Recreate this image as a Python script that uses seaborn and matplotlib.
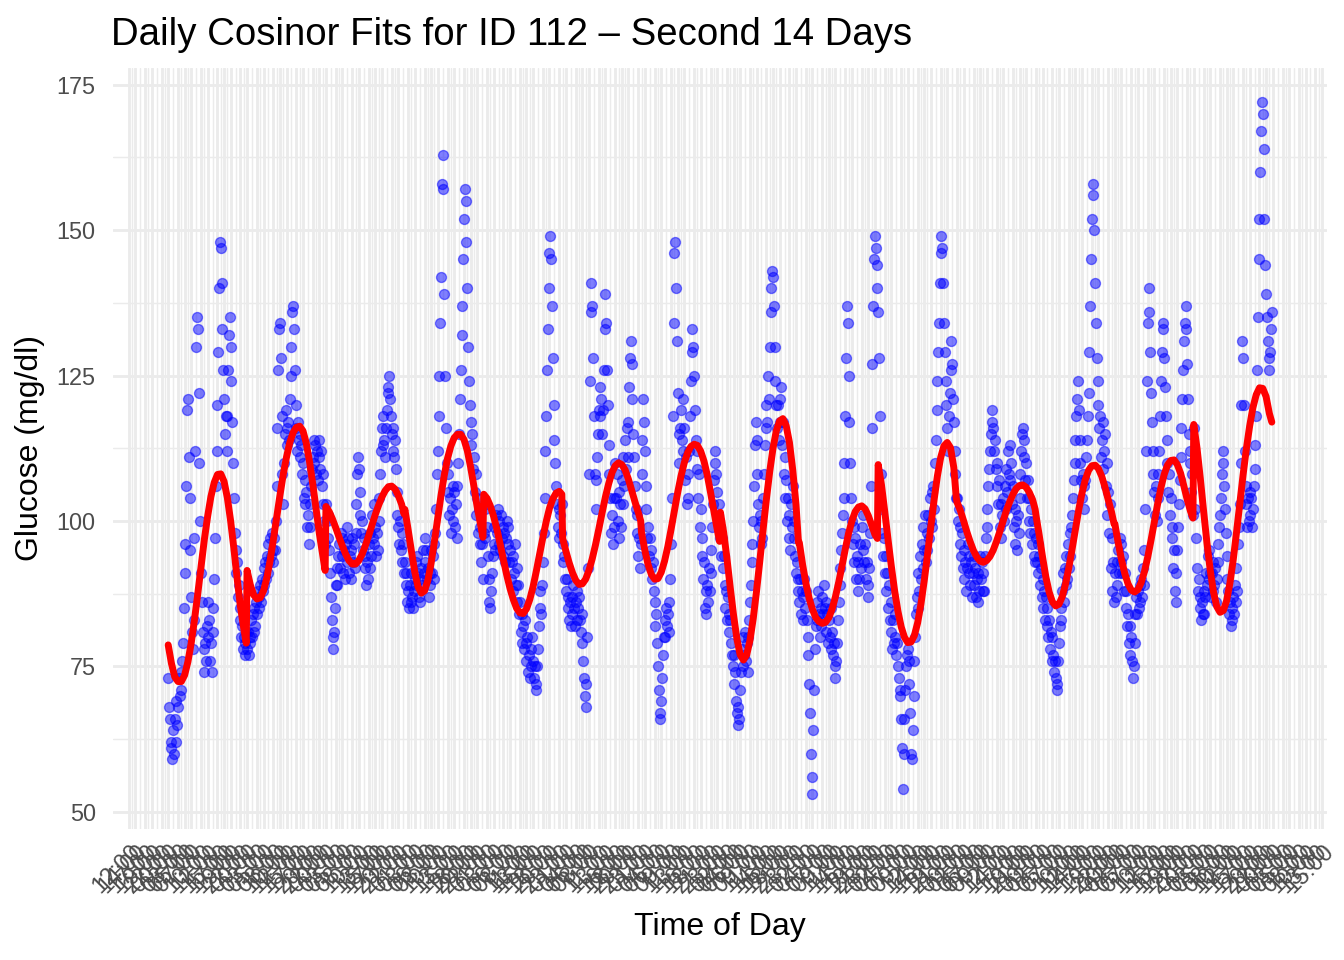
import matplotlib
matplotlib.use("Agg")
import matplotlib.pyplot as plt
import matplotlib.dates as mdates
import numpy as np
import pandas as pd
import seaborn as sns

# CGM readings, one list per day, every 15 min from 00:00
START = pd.Timestamp("2024-03-15 00:00")
READ_MIN = 15

glucose_d01 = [73, 68, 66, 62, 61, 59, 64, 60, 66, 62, 69, 65, 68, 73, 70, 74,
               71, 76, 79, 85, 91, 96, 106, 119, 121, 111, 104, 95, 87, 81, 78, 83,
               97, 112, 130, 135, 133, 122, 110, 100, 91, 86, 81, 78, 74, 79, 76, 82,
               86, 80, 83, 76, 79, 74, 81, 85, 90, 97, 106, 112, 120, 129, 140, 148,
               147, 141, 133, 126, 121, 115, 118, 112, 118, 126, 132, 135, 130, 124, 117, 110,
               104, 98, 95, 91, 93, 87, 89, 83, 85, 80, 82, 78, 80, 77, 79, 81]
glucose_d02 = [78, 81, 77, 80, 79, 83, 80, 84, 81, 85, 82, 86, 84, 88, 85, 87,
               89, 86, 90, 88, 92, 89, 93, 90, 94, 91, 96, 93, 97, 94, 98, 95,
               93, 97, 95, 100, 106, 116, 126, 133, 134, 128, 118, 108, 103, 110, 115, 119,
               116, 113, 117, 114, 121, 125, 130, 136, 137, 133, 126, 120, 116, 112, 117, 114,
               115, 111, 113, 108, 110, 104, 107, 103, 105, 99, 101, 96, 99, 103, 106, 109,
               111, 114, 110, 113, 108, 112, 107, 111, 114, 109, 112, 106, 108, 103, 100, 96]
glucose_d03 = [103, 100, 101, 97, 95, 91, 87, 83, 80, 78, 81, 85, 89, 92, 89, 94,
               96, 92, 98, 94, 97, 91, 95, 90, 96, 99, 93, 97, 91, 94, 90, 95,
               97, 93, 96, 92, 98, 103, 108, 111, 109, 105, 101, 98, 100, 95, 97, 92,
               94, 89, 93, 90, 96, 92, 98, 94, 101, 97, 103, 96, 99, 94, 98, 95,
               100, 104, 108, 112, 116, 113, 118, 114, 111, 116, 119, 122, 123, 125, 121, 118,
               115, 112, 116, 111, 114, 109, 105, 101, 99, 96, 100, 95, 98, 93, 96, 91]
glucose_d04 = [93, 89, 91, 86, 88, 85, 89, 86, 91, 87, 85, 88, 90, 93, 89, 94,
               91, 87, 90, 86, 92, 89, 95, 91, 97, 93, 95, 90, 92, 87, 91, 89,
               95, 91, 94, 90, 96, 98, 102, 108, 112, 118, 125, 134, 142, 158, 163, 157,
               139, 125, 116, 110, 105, 108, 101, 104, 98, 102, 106, 100, 105, 99, 103, 97,
               106, 110, 115, 121, 126, 132, 137, 145, 152, 157, 155, 148, 140, 130, 124, 120,
               117, 113, 115, 109, 111, 105, 108, 101, 104, 98, 102, 96, 99, 93, 96, 90]
glucose_d05 = [98, 102, 97, 103, 99, 94, 90, 86, 85, 88, 91, 94, 96, 99, 95, 101,
               98, 102, 96, 100, 95, 101, 97, 99, 94, 98, 93, 97, 100, 96, 99, 93,
               95, 90, 93, 88, 94, 91, 96, 89, 92, 86, 89, 84, 86, 81, 84, 79,
               82, 78, 83, 79, 76, 80, 74, 77, 73, 78, 75, 80, 76, 73, 75, 71,
               72, 75, 78, 82, 85, 88, 84, 89, 93, 98, 104, 112, 118, 126, 133, 140,
               146, 149, 145, 137, 128, 120, 114, 110, 106, 103, 99, 102, 97, 101, 98, 103]
glucose_d06 = [96, 93, 94, 90, 88, 90, 85, 87, 83, 86, 82, 87, 84, 89, 85, 82,
               86, 83, 88, 85, 87, 83, 81, 84, 79, 76, 73, 70, 68, 72, 80, 92,
               108, 124, 136, 141, 137, 128, 118, 108, 102, 107, 111, 115, 119, 123, 118, 121,
               115, 119, 126, 133, 139, 134, 126, 120, 113, 108, 104, 98, 101, 96, 104, 99,
               110, 104, 108, 100, 105, 97, 103, 99, 107, 103, 111, 106, 114, 109, 116, 111,
               117, 123, 128, 131, 127, 121, 115, 111, 106, 102, 98, 101, 94, 97, 92, 96]
glucose_d07 = [108, 114, 121, 117, 112, 106, 102, 97, 99, 94, 97, 92, 95, 90, 93, 88,
               86, 82, 84, 79, 75, 71, 67, 66, 69, 73, 77, 80, 83, 80, 85, 82,
               84, 81, 86, 90, 96, 104, 118, 134, 146, 148, 140, 131, 122, 115, 110, 116,
               119, 114, 121, 112, 116, 107, 111, 103, 108, 104, 112, 118, 124, 129, 133, 130,
               125, 119, 114, 109, 112, 104, 108, 99, 102, 94, 97, 90, 93, 85, 88, 84,
               89, 86, 92, 88, 95, 91, 99, 103, 107, 110, 112, 108, 105, 101, 103, 97]
glucose_d08 = [99, 94, 97, 92, 94, 89, 85, 88, 83, 87, 84, 81, 83, 79, 77, 75,
               77, 72, 74, 69, 67, 65, 68, 66, 71, 74, 78, 75, 80, 77, 81, 76,
               79, 74, 80, 83, 86, 89, 93, 96, 100, 106, 113, 117, 114, 108, 103, 99,
               101, 96, 100, 97, 104, 108, 113, 116, 120, 117, 125, 121, 130, 136, 140, 143,
               142, 137, 130, 124, 120, 116, 120, 114, 121, 117, 123, 113, 117, 108, 111, 104,
               107, 100, 104, 97, 101, 95, 103, 99, 106, 100, 97, 94, 91, 93, 88, 90]
glucose_d09 = [86, 90, 84, 88, 83, 87, 90, 85, 88, 83, 80, 77, 72, 67, 60, 53,
               56, 64, 71, 78, 82, 86, 83, 88, 84, 80, 85, 82, 87, 84, 89, 85,
               86, 81, 84, 79, 83, 80, 85, 78, 81, 77, 79, 75, 73, 76, 79, 83,
               86, 89, 92, 95, 98, 101, 104, 110, 118, 128, 137, 134, 125, 117, 110, 104,
               100, 96, 99, 93, 97, 90, 94, 88, 93, 90, 96, 92, 99, 95, 101, 93,
               96, 90, 93, 87, 89, 92, 98, 106, 116, 127, 137, 145, 149, 147, 144, 140]
glucose_d10 = [136, 128, 118, 108, 102, 98, 94, 97, 91, 94, 88, 91, 85, 89, 83, 86,
               81, 78, 83, 79, 84, 80, 77, 79, 75, 73, 71, 70, 66, 61, 54, 60,
               66, 71, 75, 77, 78, 76, 72, 67, 60, 59, 64, 70, 76, 80, 84, 87,
               85, 91, 88, 94, 90, 96, 92, 99, 95, 101, 93, 98, 95, 101, 97, 104,
               100, 105, 99, 106, 102, 110, 114, 119, 124, 129, 134, 141, 146, 149, 147, 141,
               134, 129, 124, 120, 116, 112, 118, 122, 126, 131, 127, 121, 117, 112, 108, 104]
glucose_d11 = [104, 100, 102, 96, 99, 94, 98, 92, 95, 90, 93, 88, 92, 96, 91, 94,
               89, 93, 87, 91, 94, 89, 92, 87, 90, 86, 91, 88, 94, 90, 93, 88,
               91, 88, 94, 97, 99, 102, 106, 109, 112, 115, 117, 119, 116, 112, 114, 109,
               106, 110, 103, 107, 99, 103, 97, 101, 104, 100, 106, 102, 109, 105, 112, 108,
               113, 107, 110, 103, 106, 99, 102, 96, 100, 95, 101, 98, 104, 108, 112, 115,
               116, 111, 114, 107, 110, 104, 107, 100, 104, 98, 102, 96, 100, 94, 98, 93]
glucose_d12 = [97, 93, 96, 91, 94, 89, 92, 87, 90, 85, 88, 83, 87, 82, 85, 80,
               83, 78, 81, 76, 80, 77, 74, 76, 73, 71, 72, 76, 79, 82, 85, 83,
               88, 91, 86, 92, 89, 94, 90, 96, 92, 98, 94, 99, 101, 104, 107, 110,
               114, 118, 121, 124, 119, 114, 110, 107, 104, 108, 102, 106, 107, 111, 114, 118,
               122, 129, 137, 145, 152, 156, 158, 150, 141, 134, 128, 124, 120, 116, 118, 111,
               114, 109, 117, 112, 115, 106, 110, 101, 105, 98, 103, 92, 97, 88, 93, 86]
glucose_d13 = [91, 87, 93, 89, 95, 91, 97, 93, 96, 91, 94, 88, 91, 85, 88, 82,
               84, 79, 82, 77, 80, 76, 73, 75, 79, 84, 87, 84, 88, 85, 89, 86,
               90, 87, 92, 89, 95, 102, 112, 124, 134, 140, 136, 129, 122, 117, 112, 108,
               105, 101, 106, 100, 104, 108, 112, 118, 124, 129, 134, 133, 128, 123, 118, 114,
               110, 105, 108, 101, 104, 97, 99, 92, 95, 88, 91, 86, 95, 99, 103, 107,
               111, 116, 121, 126, 131, 134, 137, 133, 127, 121, 115, 110, 112, 105, 108, 101]
glucose_d14 = [116, 109, 102, 97, 92, 88, 90, 85, 87, 83, 86, 84, 88, 84, 87, 91,
               89, 94, 90, 95, 91, 87, 91, 88, 93, 89, 92, 86, 90, 93, 96, 99,
               101, 104, 108, 112, 110, 106, 102, 98, 94, 90, 88, 84, 86, 82, 85, 83,
               87, 84, 89, 86, 92, 88, 96, 99, 103, 110, 120, 131, 128, 120, 112, 106,
               103, 99, 104, 100, 105, 101, 104, 99, 102, 106, 109, 113, 118, 126, 135, 145,
               152, 160, 167, 172, 170, 164, 152, 144, 139, 135, 131, 128, 126, 129, 133, 136]

# fitted cosinor curve per day, at 00:00, 01:00 ... 23:00 and 23:45
FIT_HOURS = list(range(24)) + [23.75]
fit_d01 = [78.7, 75.5, 73.2, 72.4, 72.4, 73.5, 75.8, 79.0, 83.0, 87.5, 92.2, 96.8, 100.8,
           104.2, 106.6, 108.0, 108.1, 106.8, 104.0, 100.0, 95.2, 90.0, 85.2, 81.5, 79.0]
fit_d02 = [91.5, 89.0, 87.3, 86.6, 86.8, 88.0, 90.2, 93.2, 96.8, 100.6, 104.4, 108.0, 111.0,
           113.5, 115.2, 116.1, 116.3, 115.5, 113.4, 110.2, 106.3, 102.0, 97.8, 94.2, 91.5]
fit_d03 = [102.5, 101.6, 100.3, 98.8, 97.2, 95.7, 94.3, 93.2, 92.6, 92.6, 93.2, 94.3, 95.8,
           97.5, 99.3, 101.1, 102.7, 104.1, 105.2, 105.9, 106.0, 105.5, 104.4, 102.9, 101.2]
fit_d04 = [102.0, 98.5, 94.8, 91.3, 88.7, 87.6, 88.0, 89.8, 92.8, 96.5, 100.5, 104.4, 107.9,
           110.8, 112.9, 114.3, 114.9, 114.9, 114.0, 112.1, 109.3, 106.0, 102.4, 99.5, 97.2]
fit_d05 = [104.6, 103.9, 102.6, 100.8, 98.6, 96.0, 93.3, 90.7, 88.4, 86.5, 85.0, 84.2, 84.1,
           84.9, 86.5, 88.7, 91.4, 94.3, 97.2, 99.9, 102.2, 103.8, 104.8, 105.1, 104.6]
fit_d06 = [97.0, 94.8, 92.8, 91.1, 89.8, 89.1, 89.2, 90.0, 91.5, 93.5, 95.9, 98.6, 101.4,
           104.1, 106.4, 108.3, 109.5, 110.0, 109.7, 108.8, 107.2, 105.3, 103.3, 101.5, 100.0]
fit_d07 = [98.0, 95.0, 92.5, 90.8, 90.0, 90.1, 91.2, 93.1, 95.6, 98.6, 101.8, 104.9, 107.7,
           110.0, 111.7, 112.8, 113.2, 113.0, 112.0, 110.3, 107.9, 104.9, 101.7, 98.6, 96.5]
fit_d08 = [101.5, 98.0, 93.5, 88.5, 83.8, 79.8, 77.0, 76.1, 77.0, 79.5, 83.3, 88.0, 93.2,
           98.6, 103.8, 108.5, 112.5, 115.5, 117.2, 117.6, 116.4, 113.5, 108.8, 102.8, 96.3]
fit_d09 = [96.3, 92.5, 89.3, 86.7, 84.8, 83.4, 82.7, 82.4, 82.6, 83.4, 84.9, 87.0, 89.5,
           92.3, 95.2, 97.9, 100.0, 101.6, 102.4, 102.6, 102.1, 100.9, 99.3, 97.7, 97.0]
fit_d10 = [109.7, 106.2, 101.6, 96.8, 92.2, 88.0, 84.5, 81.8, 80.0, 79.1, 79.2, 80.3, 82.5,
           85.7, 89.7, 94.2, 99.0, 103.6, 107.7, 110.9, 112.9, 113.5, 112.6, 109.2, 104.0]
fit_d11 = [103.2, 101.8, 100.0, 98.1, 96.4, 94.9, 93.8, 93.1, 92.9, 93.2, 93.9, 95.0, 96.5,
           98.2, 100.0, 101.8, 103.3, 104.6, 105.6, 106.1, 106.2, 105.8, 104.9, 103.6, 102.0]
fit_d12 = [101.0, 97.5, 93.8, 90.4, 87.8, 86.1, 85.4, 85.7, 87.0, 89.2, 92.0, 95.2, 98.6,
           101.9, 104.8, 107.1, 108.7, 109.5, 109.6, 109.0, 107.7, 105.8, 103.6, 101.5, 99.5]
fit_d13 = [99.5, 96.3, 93.4, 91.0, 89.2, 88.1, 87.8, 88.2, 89.4, 91.3, 93.8, 96.7, 99.8,
           102.9, 105.7, 108.0, 109.6, 110.4, 110.5, 109.7, 108.2, 106.0, 103.7, 101.7, 100.5]
fit_d14 = [116.6, 112.5, 107.3, 101.7, 96.3, 91.6, 87.8, 85.3, 84.3, 84.6, 86.3, 89.3, 93.3,
           98.0, 103.0, 107.9, 112.4, 116.3, 119.5, 121.7, 122.9, 122.8, 121.4, 118.5, 117.0]

glucose_days = [glucose_d01, glucose_d02, glucose_d03, glucose_d04, glucose_d05,
                glucose_d06, glucose_d07, glucose_d08, glucose_d09, glucose_d10,
                glucose_d11, glucose_d12, glucose_d13, glucose_d14]
fit_days = [fit_d01, fit_d02, fit_d03, fit_d04, fit_d05, fit_d06, fit_d07,
            fit_d08, fit_d09, fit_d10, fit_d11, fit_d12, fit_d13, fit_d14]

obs = []
fits = []
for d, (g, f) in enumerate(zip(glucose_days, fit_days)):
    day0 = START + pd.Timedelta(days=d)
    obs.append(pd.DataFrame({
        "time": day0 + pd.to_timedelta(np.arange(len(g)) * READ_MIN, unit="min"),
        "glucose": g,
    }))
    fits.append(pd.DataFrame({
        "time": day0 + pd.to_timedelta(FIT_HOURS, unit="h"),
        "fit": f,
    }))
obs = pd.concat(obs, ignore_index=True)
fits = pd.concat(fits, ignore_index=True)

sns.set_theme(style="white")
plt.rcParams["font.family"] = ["Liberation Sans", "DejaVu Sans"]

fig = plt.figure(figsize=(7, 5), dpi=192)
ax = fig.add_axes([113 / 1344, 131 / 960, 1214 / 1344, 761.4 / 960])

sns.scatterplot(data=obs, x="time", y="glucose", ax=ax, color="blue",
                alpha=0.5, s=14, edgecolor="blue", linewidth=0.5, zorder=2)
sns.lineplot(data=fits, x="time", y="fit", ax=ax, color="red",
             linewidth=2.6, estimator=None, sort=False, zorder=3)

ax.margins(x=0.05, y=0.05)
ax.set_yticks([50, 75, 100, 125, 150, 175])
ax.set_yticks([62.5, 87.5, 112.5, 137.5, 162.5], minor=True)

# x breaks: whole hours roughly every 2.4 h, minor grid halfway between
brk_h = np.round(np.arange(-12.0, 352.6, 2.42))
mid_h = (brk_h[:-1] + brk_h[1:]) / 2
ax.set_xticks(mdates.date2num(START + pd.to_timedelta(brk_h, unit="h")))
ax.set_xticks(mdates.date2num(START + pd.to_timedelta(mid_h, unit="h")), minor=True)
ax.xaxis.set_major_formatter(mdates.DateFormatter("%H:%M"))

ax.set_axisbelow(True)
ax.grid(which="major", color="#EBEBEB", linewidth=1.07)
ax.grid(which="minor", color="#EBEBEB", linewidth=0.53)
for sp in ax.spines.values():
    sp.set_visible(False)

ax.tick_params(which="both", length=0)
ax.tick_params(axis="y", labelsize=8.8, labelcolor="#4D4D4D", pad=6.5)
ax.tick_params(axis="x", labelsize=8.8, labelcolor="#4D4D4D", pad=4)
plt.setp(ax.get_xticklabels(), rotation=45, ha="right", va="top",
         rotation_mode="anchor")

ax.set_xlabel("Time of Day", fontsize=12, color="black")
ax.set_ylabel("Glucose (mg/dl)", fontsize=12, color="black")
ax.xaxis.set_label_coords(0.5, (829 - 912) / 761.4)
ax.yaxis.set_label_coords((45 - 113) / 1214, 0.5)

fig.text(111 / 1344, 1 - 45 / 960, "Daily Cosinor Fits for ID 112 \u2013 Second 14 Days",
         fontsize=14.4, ha="left", va="baseline", color="black")

fig.savefig("out.png", dpi=192)
